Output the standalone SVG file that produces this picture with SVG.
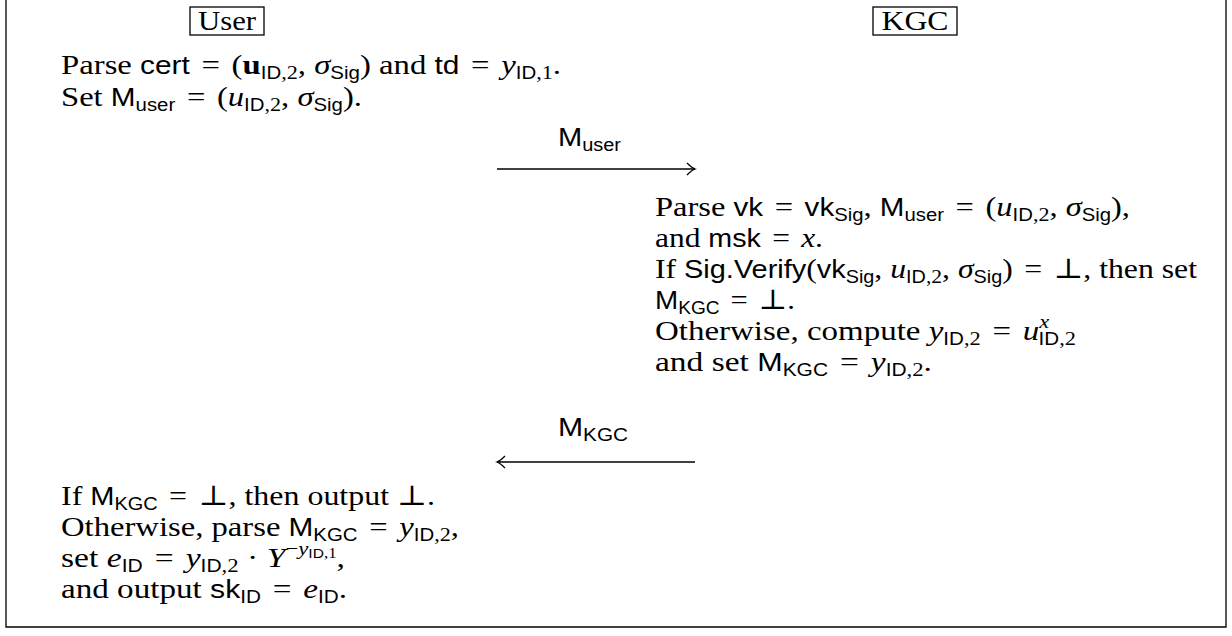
<svg xmlns="http://www.w3.org/2000/svg" width="1232" height="636" viewBox="0 0 1232 636">
<style>
text{font-family:"Liberation Serif","DejaVu Serif",serif;font-size:28px;fill:#000}
.s{font-family:"Liberation Sans","DejaVu Sans",sans-serif;font-size:25.5px}
.i{font-style:italic}
.b{font-weight:bold}
.sb{font-size:19px}
.sbs{font-family:"Liberation Sans","DejaVu Sans",sans-serif;font-size:17.5px}
.ss{font-size:14px}
.sss{font-family:"Liberation Sans","DejaVu Sans",sans-serif;font-size:13px}
.box{fill:none;stroke:#000;stroke-width:1.3}
.conn{fill:none;stroke:#000;stroke-width:1.3}
</style>
<defs>
<marker id="tip" viewBox="-10 -8 12 16" markerWidth="12" markerHeight="16" refX="0" refY="0" orient="auto" markerUnits="userSpaceOnUse">
<path d="M-8,-6 Q-3,-1 0,0 Q-3,1 -8,6" fill="none" stroke="#000" stroke-width="1.3"/>
</marker>
</defs>
<rect width="1232" height="636" fill="#fff"/>
<path d="M6,0 V627 H1226 V0" fill="none" stroke="#000" stroke-width="1.3"/>

<g id="node-user">
<rect class="box" x="190" y="7" width="74" height="28"/>
<text x="227" y="30" text-anchor="middle" textLength="58" lengthAdjust="spacingAndGlyphs">User</text>
</g>
<g id="node-kgc">
<rect class="box" x="873" y="7" width="84" height="28"/>
<text x="915" y="30" text-anchor="middle" textLength="67" lengthAdjust="spacingAndGlyphs">KGC</text>
</g>

<g id="user-step1">
<text x="61" y="74" textLength="500" lengthAdjust="spacingAndGlyphs">Parse <tspan class="s">cert</tspan><tspan dx="3"> = </tspan><tspan dx="3">(</tspan><tspan class="b">u</tspan><tspan class="sbs" dy="5">ID</tspan><tspan class="sb">,2</tspan><tspan dy="-5">, </tspan><tspan class="i">σ</tspan><tspan class="sbs" dy="5">Sig</tspan><tspan dy="-5">) and </tspan><tspan class="s">td</tspan><tspan dx="3"> = </tspan><tspan class="i" dx="3">y</tspan><tspan class="sbs" dy="5">ID</tspan><tspan class="sb">,1</tspan><tspan dy="-5">.</tspan></text>
<text x="61" y="106" textLength="301" lengthAdjust="spacingAndGlyphs">Set <tspan class="s">M</tspan><tspan class="sbs" dy="5">user</tspan><tspan dy="-5" dx="3"> = </tspan><tspan dx="3">(</tspan><tspan class="i">u</tspan><tspan class="sbs" dy="5">ID</tspan><tspan class="sb">,2</tspan><tspan dy="-5">, </tspan><tspan class="i">σ</tspan><tspan class="sbs" dy="5">Sig</tspan><tspan dy="-5">).</tspan></text>
</g>

<g id="kgc-step">
<text x="655" y="216" textLength="475" lengthAdjust="spacingAndGlyphs">Parse <tspan class="s">vk</tspan><tspan dx="3"> = </tspan><tspan class="s" dx="3">vk</tspan><tspan class="sbs" dy="5">Sig</tspan><tspan dy="-5">, </tspan><tspan class="s">M</tspan><tspan class="sbs" dy="5">user</tspan><tspan dy="-5" dx="3"> = </tspan><tspan dx="3">(</tspan><tspan class="i">u</tspan><tspan class="sbs" dy="5">ID</tspan><tspan class="sb">,2</tspan><tspan dy="-5">, </tspan><tspan class="i">σ</tspan><tspan class="sbs" dy="5">Sig</tspan><tspan dy="-5">),</tspan></text>
<text x="655" y="247" textLength="168" lengthAdjust="spacingAndGlyphs">and <tspan class="s">msk</tspan><tspan dx="3"> = </tspan><tspan class="i" dx="3">x</tspan>.</text>
<text x="655" y="278" textLength="542" lengthAdjust="spacingAndGlyphs">If <tspan class="s">Sig.Verify</tspan>(<tspan class="s">vk</tspan><tspan class="sbs" dy="5">Sig</tspan><tspan dy="-5">, </tspan><tspan class="i">u</tspan><tspan class="sbs" dy="5">ID</tspan><tspan class="sb">,2</tspan><tspan dy="-5">, </tspan><tspan class="i">σ</tspan><tspan class="sbs" dy="5">Sig</tspan><tspan dy="-5">)</tspan><tspan dx="3"> = </tspan><tspan dx="3">⊥, then set</tspan></text>
<text x="655" y="309" textLength="140" lengthAdjust="spacingAndGlyphs"><tspan class="s">M</tspan><tspan class="sbs" dy="5">KGC</tspan><tspan dy="-5" dx="3"> = </tspan><tspan dx="3">⊥.</tspan></text>
<text x="655" y="340" textLength="421" lengthAdjust="spacingAndGlyphs">Otherwise, compute <tspan class="i">y</tspan><tspan class="sbs" dy="5">ID</tspan><tspan class="sb">,2</tspan><tspan dy="-5" dx="3"> = </tspan><tspan class="i" dx="3">u</tspan><tspan class="sb i" dy="-12">x</tspan><tspan class="sbs" dx="-9" dy="17">ID</tspan><tspan class="sb">,2</tspan></text>
<text x="655" y="371" textLength="277" lengthAdjust="spacingAndGlyphs">and set <tspan class="s">M</tspan><tspan class="sbs" dy="5">KGC</tspan><tspan dy="-5" dx="3"> = </tspan><tspan class="i" dx="3">y</tspan><tspan class="sbs" dy="5">ID</tspan><tspan class="sb">,2</tspan><tspan dy="-5">.</tspan></text>
</g>

<g id="user-step2">
<text x="61" y="505" textLength="374" lengthAdjust="spacingAndGlyphs">If <tspan class="s">M</tspan><tspan class="sbs" dy="5">KGC</tspan><tspan dy="-5" dx="3"> = </tspan><tspan dx="3">⊥, then output ⊥.</tspan></text>
<text x="61" y="536" textLength="398" lengthAdjust="spacingAndGlyphs">Otherwise, parse <tspan class="s">M</tspan><tspan class="sbs" dy="5">KGC</tspan><tspan dy="-5" dx="3"> = </tspan><tspan class="i" dx="3">y</tspan><tspan class="sbs" dy="5">ID</tspan><tspan class="sb">,2</tspan><tspan dy="-5">,</tspan></text>
<text x="61" y="567" textLength="284" lengthAdjust="spacingAndGlyphs">set <tspan class="i">e</tspan><tspan class="sbs" dy="5">ID</tspan><tspan dy="-5" dx="3"> = </tspan><tspan class="i" dx="3">y</tspan><tspan class="sbs" dy="5">ID</tspan><tspan class="sb">,2</tspan><tspan dy="-5"> · </tspan><tspan class="i">Y</tspan><tspan class="sb" dy="-12">−</tspan><tspan class="sb i">y</tspan><tspan class="sss" dy="3">ID</tspan><tspan class="ss">,1</tspan><tspan dy="9">,</tspan></text>
<text x="61" y="598" textLength="286" lengthAdjust="spacingAndGlyphs">and output <tspan class="s">sk</tspan><tspan class="sbs" dy="5">ID</tspan><tspan dy="-5" dx="3"> = </tspan><tspan class="i" dx="3">e</tspan><tspan class="sbs" dy="5">ID</tspan><tspan dy="-5">.</tspan></text>
</g>

<g id="connectors">
<path class="conn" d="M497,169 H695" marker-end="url(#tip)"/>
<text x="558" y="146" textLength="63" lengthAdjust="spacingAndGlyphs"><tspan class="s">M</tspan><tspan class="sbs" dy="5">user</tspan></text>
<path class="conn" d="M695,462 H497" marker-end="url(#tip)"/>
<text x="558" y="436" textLength="70" lengthAdjust="spacingAndGlyphs"><tspan class="s">M</tspan><tspan class="sbs" dy="5">KGC</tspan></text>
</g>
</svg>
